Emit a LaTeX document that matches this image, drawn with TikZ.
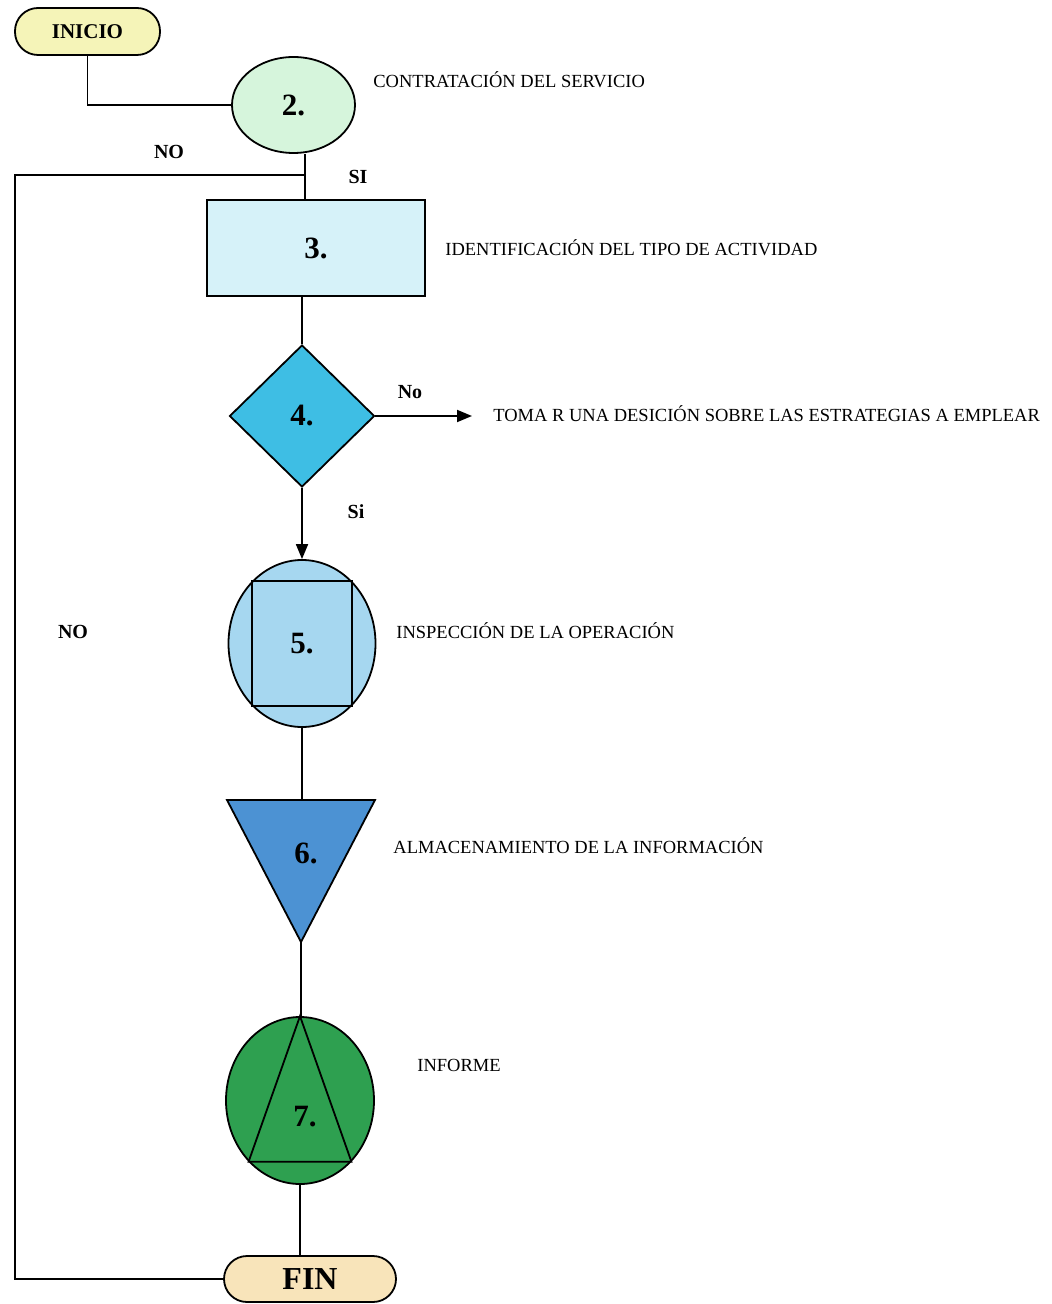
\documentclass[tikz,border=0pt]{standalone}
\usepackage{fontspec}
\setmainfont{Liberation Serif}
\usetikzlibrary{shapes.geometric,arrows.meta}
\definecolor{palettecolor1}{RGB}{245,244,184}
\definecolor{palettecolor2}{RGB}{214,245,220}
\definecolor{palettecolor3}{RGB}{214,242,249}
\definecolor{palettecolor4}{RGB}{62,190,228}
\definecolor{palettecolor5}{RGB}{166,215,240}
\definecolor{palettecolor6}{RGB}{76,146,211}
\definecolor{palettecolor7}{RGB}{46,160,80}
\definecolor{palettecolor8}{RGB}{248,228,186}

\begin{document}
\begin{tikzpicture}[x=0.5pt, y=-0.5pt,
    flow/.style={draw=black, line width=0.9pt, inner sep=0pt},
    wire/.style={draw=black, line width=0.9pt},
    num/.style={font=\fontsize{15.5}{18}\selectfont\bfseries},
    desc/.style={anchor=base west, inner sep=0pt, font=\fontsize{9.25}{11}\selectfont},
    answer/.style={inner sep=0pt, font=\fontsize{10}{12}\selectfont\bfseries},
    tip/.style={-{Triangle[length=7.5pt, width=6pt]}}]
\useasboundingbox (0,0) rectangle (1051,1304);
% shapes of the flow
\node[flow, rounded corners=11.5pt, fill=palettecolor1, minimum width=72.5pt, minimum height=23.5pt, font=\fontsize{10.5}{12}\selectfont\bfseries] (inicio) at (87.5,31.5) {INICIO};
\node[flow, ellipse, fill=palettecolor2, minimum width=61.5pt, minimum height=48pt, num] (n2) at (293.5,105) {2.};
\node[flow, rectangle, fill=palettecolor3, minimum width=109pt, minimum height=48pt, num] (n3) at (316,248) {3.};
\node[flow, diamond, fill=palettecolor4, minimum width=72.5pt, minimum height=71pt, num] (n4) at (302,416) {4.};
\node[flow, ellipse, fill=palettecolor5, minimum width=73.5pt, minimum height=83.5pt, num] (n5) at (302,643.5) {5.};
\draw[wire] (n5.129) rectangle (n5.-51);
\coordinate (t6top) at (302,800);
\coordinate (t6apex) at (301,942);
\draw[wire, fill=palettecolor6] (227,800) -- (375,800) -- (t6apex) -- cycle;
\node[num, inner sep=0pt] (n6) at (306,853) {6.};
\node[flow, ellipse, fill=palettecolor7, minimum width=74pt, minimum height=83.5pt] (n7) at (300,1100.5) {};
\draw[wire] (n7.north) -- (n7.230) -- (n7.310) -- cycle;
\node[num, inner sep=0pt] (n7text) at (305,1117) {7.};
\node[flow, rounded corners=11.5pt, fill=palettecolor8, minimum width=86pt, minimum height=23pt, font=\fontsize{16}{18}\selectfont\bfseries] (fin) at (310,1279) {FIN};
% connectors
\coordinate (split) at (305,175);
\coordinate (loopleft) at (15,175);
\coordinate (noend) at (472,416);
\draw[wire] (inicio.south) |- (n2.west);
\draw[wire] (n2.south -| split) -- (split) -- (split |- n3.north);
\draw[wire] (split) -- (loopleft) |- (fin.west);
\draw[wire] (n3.south -| n4.north) -- (n4.north);
\draw[wire, tip] (n4.east) -- (noend);
\draw[wire, tip] (n4.south) -- (n5.north);
\draw[wire] (n5.south) -- (t6top);
\draw[wire] (t6apex) -- (t6apex |- n7.north);
\draw[wire] (n7.south) -- (n7.south |- fin.north);
% answers
\node[answer] (no1) at (169,152) {NO};
\node[answer] (si1) at (358,177) {SI};
\node[answer] (no2) at (410,392) {No};
\node[answer] (si2) at (356,512) {Si};
\node[answer] (no3) at (73,632) {NO};
% descriptions
\node[desc] (d2) at (373,88) {CONTRATACIÓN DEL SERVICIO};
\node[desc] (d3) at (445,256) {IDENTIFICACIÓN DEL TIPO DE ACTIVIDAD};
\node[desc] (d4) at (493,422) {TOMA R UNA DESICIÓN SOBRE LAS ESTRATEGIAS A EMPLEAR};
\node[desc] (d5) at (396,638) {INSPECCIÓN DE LA OPERACIÓN};
\node[desc] (d6) at (393,853) {ALMACENAMIENTO DE LA INFORMACIÓN};
\node[desc] (d7) at (417,1071) {INFORME};
\end{tikzpicture}
\end{document}
